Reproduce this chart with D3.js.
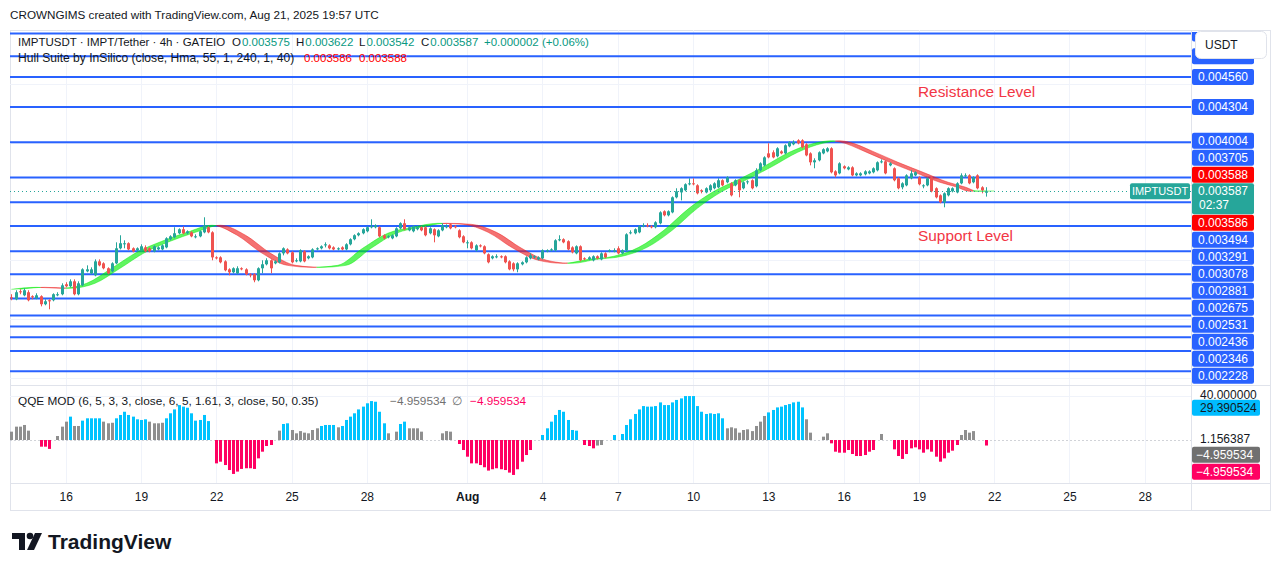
<!DOCTYPE html>
<html>
<head>
<meta charset="utf-8">
<script src="https://cdn.jsdelivr.net/npm/d3@7"></script>
<style>
  body { margin: 0; background: #fff; }
  text { font-family: "Liberation Sans", Arial, sans-serif; }
</style>
</head>
<body>
<div id="chart"></div>
<script>
// 4h candles, first bar 2025-07-13 20:00 UTC; prices are USDT x 1e6
const firstBar = "2025-07-13T20:00:00Z";
const open = [
  2685,2668,2736,2702,2728,2694,2677,2694,2626,2660,
  2660,2702,2711,2796,2779,2821,2711,2787,2906,2889,
  2872,2991,2974,2932,2906,2974,3102,3136,3145,3102,
  3085,3085,3110,3102,3076,3093,3093,3110,3179,3196,
  3230,3264,3230,3238,3196,3204,3238,3281,3238,3025,
  3025,2991,2923,2898,2889,2932,2923,2881,2881,2830,
  2932,2966,3000,2974,2983,3059,3093,3068,2991,2991,
  3076,3017,3025,3093,3102,3127,3127,3110,3093,3110,
  3093,3136,3179,3213,3230,3247,3281,3281,3281,3213,
  3196,3187,3204,3272,3315,3255,3247,3264,3281,3281,
  3230,3264,3204,3255,3281,3306,3289,3255,3204,3145,
  3153,3085,3127,3119,3051,3017,3025,3034,3034,2991,
  2974,2923,2966,2983,3017,3025,3008,3017,3076,3085,
  3085,3170,3179,3162,3110,3059,3119,3017,3008,3000,
  3034,3008,3059,3076,3076,3102,3059,3085,3230,3230,
  3238,3289,3298,3289,3281,3315,3417,3383,3408,3536,
  3578,3596,3647,3655,3638,3596,3578,3596,3613,3621,
  3681,3664,3655,3638,3681,3613,3664,3681,3630,3766,
  3808,3910,3919,3885,3927,3910,3970,3987,4021,4021,
  3987,3910,3834,3851,3910,3927,3953,3757,3740,3800,
  3774,3791,3723,3723,3732,3740,3749,3766,3834,3842,
  3808,3783,3698,3621,3638,3698,3723,3706,3630,3638,
  3706,3613,3553,3493,3553,3587,3578,3655,3715,3723,
  3664,3723,3621,3575
];
const high = [
  2711,2745,2753,2762,2745,2702,2719,2702,2668,2668,
  2719,2728,2804,2813,2838,2838,2821,2932,2957,2940,
  3008,3008,2983,2940,2983,3153,3213,3170,3153,3110,
  3110,3136,3127,3110,3127,3119,3136,3196,3213,3281,
  3272,3289,3255,3247,3221,3255,3366,3289,3247,3034,
  3034,3000,2932,2940,2949,2940,2932,2889,2889,2940,
  3000,3017,3008,3000,3068,3110,3102,3076,3017,3093,
  3085,3042,3102,3110,3127,3153,3136,3119,3110,3119,
  3145,3187,3221,3238,3272,3289,3349,3306,3289,3221,
  3213,3221,3281,3323,3349,3289,3298,3289,3289,3289,
  3281,3272,3264,3315,3306,3315,3298,3264,3213,3170,
  3162,3136,3136,3127,3059,3042,3051,3042,3042,3000,
  2983,2983,2991,3034,3059,3042,3034,3093,3093,3102,
  3179,3213,3187,3170,3119,3127,3127,3025,3034,3042,
  3042,3068,3068,3093,3102,3119,3093,3230,3255,3272,
  3298,3315,3315,3298,3332,3417,3425,3425,3544,3613,
  3621,3655,3698,3698,3647,3604,3621,3647,3664,3698,
  3689,3715,3664,3689,3689,3672,3681,3689,3783,3834,
  3885,3996,3936,3962,3936,3987,4013,4021,4030,4030,
  3996,3919,3868,3927,3953,3962,3962,3766,3834,3808,
  3800,3800,3749,3749,3766,3766,3791,3842,3859,3851,
  3834,3791,3706,3664,3732,3766,3757,3715,3647,3706,
  3715,3621,3561,3578,3621,3621,3664,3740,3740,3732,
  3715,3732,3630,3622
];
const low = [
  2660,2660,2711,2694,2651,2668,2668,2608,2617,2583,
  2651,2694,2702,2770,2770,2702,2702,2779,2898,2881,
  2864,2949,2923,2881,2898,2966,3093,3102,3085,3068,
  3076,3076,3068,3068,3068,3085,3085,3102,3170,3187,
  3221,3221,3221,3196,3187,3196,3230,3230,3000,3008,
  2974,2906,2872,2889,2881,2915,2872,2855,2813,2821,
  2889,2957,2889,2966,2974,3042,3051,2974,2983,2983,
  2983,3008,3017,3085,3093,3110,3093,3085,3085,3085,
  3085,3127,3170,3204,3221,3238,3272,3272,3196,3179,
  3187,3179,3196,3264,3255,3247,3238,3255,3247,3204,
  3221,3153,3196,3247,3272,3264,3272,3187,3145,3102,
  3093,3076,3110,3051,2974,3008,3017,3017,2974,2915,
  2906,2898,2957,2974,3008,3017,3000,3008,3068,3076,
  3076,3162,3145,3085,3059,3051,2991,3000,3000,2991,
  3008,3000,3017,3068,3068,3051,3051,3076,3221,3221,
  3230,3281,3281,3272,3272,3306,3374,3374,3400,3527,
  3510,3587,3638,3638,3561,3570,3570,3587,3604,3613,
  3630,3655,3544,3630,3536,3604,3647,3604,3621,3757,
  3800,3868,3868,3876,3902,3902,3962,3979,3987,3953,
  3885,3808,3783,3842,3902,3919,3740,3706,3732,3774,
  3766,3715,3715,3715,3723,3732,3740,3757,3825,3732,
  3800,3672,3604,3604,3630,3689,3715,3638,3613,3630,
  3578,3527,3485,3451,3544,3578,3570,3647,3706,3647,
  3655,3604,3570,3542
];
const close = [
  2677,2728,2728,2745,2660,2685,2702,2626,2651,2651,
  2711,2711,2787,2779,2821,2711,2804,2923,2923,2923,
  2991,2957,2932,2889,2974,3102,3145,3145,3093,3076,
  3102,3119,3076,3076,3119,3110,3127,3187,3204,3230,
  3264,3230,3247,3204,3204,3247,3298,3238,3025,3017,
  2983,2915,2898,2932,2932,2923,2881,2872,2830,2932,
  2966,3000,2932,2991,3059,3102,3059,2983,3000,3085,
  2991,3034,3093,3102,3119,3136,3102,3093,3102,3093,
  3136,3179,3213,3230,3264,3281,3289,3298,3204,3187,
  3204,3213,3272,3315,3264,3281,3289,3281,3255,3213,
  3272,3213,3255,3298,3289,3272,3281,3196,3153,3153,
  3102,3127,3119,3059,2983,3034,3034,3025,2983,2923,
  2923,2974,2983,3025,3042,3034,3025,3085,3085,3093,
  3170,3179,3153,3093,3068,3119,3000,3008,3025,3034,
  3017,3059,3025,3085,3085,3059,3085,3221,3238,3264,
  3289,3298,3289,3281,3323,3408,3383,3417,3536,3587,
  3613,3647,3655,3647,3570,3587,3613,3638,3655,3681,
  3638,3706,3553,3681,3596,3664,3672,3613,3766,3825,
  3876,3876,3876,3953,3910,3979,4004,4004,3996,3962,
  3893,3834,3851,3919,3945,3953,3749,3723,3825,3783,
  3791,3723,3740,3740,3757,3757,3783,3834,3842,3740,
  3825,3681,3613,3655,3723,3740,3749,3647,3638,3698,
  3587,3536,3493,3570,3613,3613,3655,3723,3723,3655,
  3706,3613,3596,3587
];

// Hull Suite (55) read at these bar indices, USDT x 1e6
const hullBar = [0,6,12,18,24,30,36,42,48,54,60,66,72,78,84,90,96,102,108,114,120,
  126,132,138,144,150,156,162,168,174,180,186,192,196,198,204,210,216,222,226,229,233];
const hullVal = [2753,2770,2762,2804,2932,3068,3162,3238,3298,3213,3059,2957,2940,2957,3102,3230,3281,3315,3306,3238,3102,
  3000,2974,3008,3034,3110,3255,3442,3587,3689,3800,3919,3996,4017,4008,3927,3834,3749,3664,3624,3588,3590];

// horizontal levels drawn on the chart
const levels = [0.004931,0.004736,0.004560,0.004304,0.004004,0.003705,0.003494,0.003291,
  0.003078,0.002881,0.002675,0.002531,0.002436,0.002346,0.002228,0.002055];
const lastPrice = 0.003587;
const hullLast = [0.003588, 0.003586];

// QQE MOD histogram, one value per bar; colour code g=grey b=blue r=red 0=none
const qqeVal = [
  7.5,12,12,13.5,8.4,0,0,-6,-6,-8,
  0,3.6,12,16.5,21,12.6,12.6,17.4,19.5,19.5,
  19.5,19.5,16.5,15,15.5,19.5,22.5,25.4,22.5,21,
  18.6,18,18.6,16.5,15,15,15.5,19.5,24,27.5,
  31.4,30,29,24,17.4,18,22.5,17,0,-21,
  -19.5,-22.5,-27,-30.5,-28.4,-26,-25.4,-25.4,-26,-16.5,
  -10.5,-5.4,-4.5,0,8.4,14.4,15,9,6,8,
  6.6,6,9,10.5,12.6,13.5,13.5,13.5,11.4,12.6,
  18,21,24,27.5,30,33,35,34.4,25.4,15,
  6,0,7.5,14.4,16.5,10.5,10.5,10.5,7.5,0,
  0,0,0,6,8,7.5,0,-3.6,-9,-15,
  -21,-21,-22.5,-24.5,-27.5,-26.3,-25.4,-26.3,-27,-29.3,
  -31.4,-26.3,-19.5,-13.5,-9,-4.5,0,4.5,10.5,16.5,
  22.5,27,25.4,18,9,8.4,0,-4.5,-5.4,-7.5,
  -5,-4.5,0,0,4.5,0,5.4,13.5,18.6,23.4,
  27.5,30.5,30,30,30.5,33.8,31.4,31.4,33.8,36,
  37.4,39.5,39.5,39.5,30.5,25.4,23.4,24,23.4,24,
  19.5,10.5,11.4,10.5,6.6,9,9.6,8,12.6,16.5,
  21.6,24.8,27,29.3,30,31.4,32.3,33.8,34.4,29.3,
  18.6,6.6,0,0,3,6,-3,-10.5,-11.4,-11.4,
  -9,-12.6,-14.4,-14.4,-13.5,-10.5,-9,0,5.4,0,
  0,-8.4,-14.4,-17,-12.6,-7.5,-6.6,-8.4,-11.4,-8.4,
  -10.5,-15,-19.5,-16.5,-11.4,-9.6,-4.5,4.5,9,6.6,
  8,0,0,-4.96
];
const qqeCol = ("ggggg00rrr 0gggbggbbb bbgggbbbbb bbbggggbbb bbbbbbbb0r rrrrrrrrrr rrr0gbbggg " +
  "ggggbbbbgb bbbbbbbbbb g0gbbgggg0 000ggg0rrr rrrrrrrrrr rrrrr0gbbb bbbbbb0rrr gg00b0bbbb " +
  "bbbbbbbbbb bbbbbbbbbb bggggggggg gbbbbbbbbb gg00ggrrrr rrrrrrr0g0 0rrrrrrrrr rrrrrrrggg g00r").replace(/ /g, "");
const qqeLast = {up: 29.390524, mid: 1.156387, val: -4.959534};

// time axis tick dates
const tickDates = ["2025-07-16","2025-07-19","2025-07-22","2025-07-25","2025-07-28","2025-08-01",
  "2025-08-04","2025-08-07","2025-08-10","2025-08-13","2025-08-16","2025-08-19","2025-08-22",
  "2025-08-25","2025-08-28"];

[open, high, low, qqeVal].forEach(a => {
  if (a.length !== close.length) throw new Error("length mismatch " + a.length + " vs " + close.length);
});
if (qqeCol.length !== close.length) throw new Error("qqeCol length " + qqeCol.length);

// ---------- layout ----------
const W = 1281, H = 571;
const L = 10, R = 1191, AX = 1271, TOP = 30, MAIN_B = 385, QQE_B = 483, BOT = 511;
const UP = "#26a69a", DOWN = "#ef5350", BLUE = "#2962ff";

const svg = d3.select("#chart").append("svg").attr("width", W).attr("height", H);

const t0 = Date.parse(firstBar), step = 4 * 3600e3;
const barTime = i => new Date(t0 + i * step);

const x = d3.scaleUtc()
  .domain([new Date("2025-07-16T00:00:00Z"), new Date("2025-08-22T00:00:00Z")])
  .range([65.7, 994.2]);
const barW = x(barTime(1)) - x(barTime(0));

const y = d3.scaleLinear().domain([0.002228, 0.004560]).range([351, 77]);
const yq = d3.scaleLinear().domain([0, 40]).range([440, 395.5]);

const defs = svg.append("defs");
defs.append("clipPath").attr("id", "mainClip").append("rect")
  .attr("x", L).attr("y", TOP).attr("width", R - L).attr("height", MAIN_B - TOP);
defs.append("clipPath").attr("id", "qqeClip").append("rect")
  .attr("x", L).attr("y", MAIN_B).attr("width", R - L).attr("height", QQE_B - MAIN_B);
defs.append("clipPath").attr("id", "axisClip").append("rect")
  .attr("x", R).attr("y", 32).attr("width", AX - R).attr("height", MAIN_B - 32);

// title
svg.append("text").attr("x", 10).attr("y", 19).attr("font-size", 11.7).attr("fill", "#131722")
  .text("CROWNGIMS created with TradingView.com, Aug 21, 2025 19:57 UTC");

// frame
svg.append("rect").attr("x", L + 0.5).attr("y", TOP + 0.5).attr("width", AX - L - 1).attr("height", BOT - TOP - 1)
  .attr("fill", "#fff").attr("stroke", "#e0e3eb");

// grid
const grid = svg.append("g");
grid.selectAll(".vg").data(tickDates).join("line")
  .attr("x1", d => Math.round(x(new Date(d + "T00:00:00Z"))) + 0.5)
  .attr("x2", d => Math.round(x(new Date(d + "T00:00:00Z"))) + 0.5)
  .attr("y1", TOP).attr("y2", QQE_B).attr("stroke", "#f0f3fa");
const priceTicks = d3.range(0.002, 0.00501, 0.0005);
grid.append("g").attr("clip-path", "url(#mainClip)").selectAll("line").data(priceTicks).join("line")
  .attr("x1", L).attr("x2", R).attr("y1", d => Math.round(y(d)) + 0.5).attr("y2", d => Math.round(y(d)) + 0.5)
  .attr("stroke", "#f0f3fa");
grid.append("line").attr("x1", L).attr("x2", R).attr("y1", Math.round(yq(40)) + 0.5).attr("y2", Math.round(yq(40)) + 0.5)
  .attr("stroke", "#f0f3fa");

// separators
svg.append("line").attr("x1", L).attr("x2", AX).attr("y1", MAIN_B + 0.5).attr("y2", MAIN_B + 0.5).attr("stroke", "#e0e3eb");
svg.append("line").attr("x1", L).attr("x2", AX).attr("y1", QQE_B + 0.5).attr("y2", QQE_B + 0.5).attr("stroke", "#e0e3eb");
svg.append("line").attr("x1", R + 0.5).attr("x2", R + 0.5).attr("y1", TOP).attr("y2", BOT).attr("stroke", "#e0e3eb");

// ---------- main pane ----------
const main = svg.append("g").attr("clip-path", "url(#mainClip)");

main.selectAll(".lvl").data(levels).join("line")
  .attr("x1", L).attr("x2", R)
  .attr("y1", d => y(d)).attr("y2", d => y(d))
  .attr("stroke", BLUE).attr("stroke-width", 2);

// Hull band: HULL vs HULL[2]
const hull = hullBar.map((b, k) => ({b, t: barTime(b), v: hullVal[k] / 1e6}));
const band = d3.area().curve(d3.curveMonotoneX)
  .x0(d => x(d.t)).x1(d => x(d.t) + 2 * barW).y(d => y(d.v));
const edge0 = d3.line().curve(d3.curveMonotoneX).x(d => x(d.t)).y(d => y(d.v));
const edge1 = d3.line().curve(d3.curveMonotoneX).x(d => x(d.t) + 2 * barW).y(d => y(d.v));

const runs = [];
let start = 0, dir = Math.sign(hull[1].v - hull[0].v);
for (let k = 1; k < hull.length; k++) {
  const d = Math.sign(hull[k].v - hull[k - 1].v) || dir;
  if (d !== dir) { runs.push({a: start, b: k - 1, dir}); start = k - 1; dir = d; }
}
runs.push({a: start, b: hull.length - 1, dir});

runs.forEach((r, n) => {
  const xa = n === 0 ? L : x(hull[r.a].t) + barW;
  const xb = n === runs.length - 1 ? R : x(hull[r.b].t) + barW;
  const id = "hclip" + n;
  defs.append("clipPath").attr("id", id).append("rect")
    .attr("x", xa).attr("y", TOP).attr("width", xb - xa).attr("height", MAIN_B - TOP);
  const col = r.dir > 0 ? "#00ee00" : "#ee1c1c";
  const g = main.append("g").attr("clip-path", `url(#${id})`);
  g.append("path").datum(hull).attr("d", band).attr("fill", col).attr("fill-opacity", 0.62);
  g.append("path").datum(hull).attr("d", edge0).attr("fill", "none").attr("stroke", col).attr("stroke-opacity", 0.45);
  g.append("path").datum(hull).attr("d", edge1).attr("fill", "none").attr("stroke", col).attr("stroke-opacity", 0.45);
});

// candles
const bars = close.map((c, i) => ({
  t: barTime(i), o: open[i] / 1e6, h: high[i] / 1e6, l: low[i] / 1e6, c: c / 1e6
}));
const cg = main.append("g");
cg.selectAll(".wick").data(bars).join("line")
  .attr("x1", d => Math.round(x(d.t)) + 0.5).attr("x2", d => Math.round(x(d.t)) + 0.5)
  .attr("y1", d => y(d.h)).attr("y2", d => y(d.l))
  .attr("stroke", d => d.c >= d.o ? UP : DOWN);
cg.selectAll(".body").data(bars).join("rect")
  .attr("x", d => Math.round(x(d.t)) - 1)
  .attr("width", 3)
  .attr("y", d => y(Math.max(d.o, d.c)))
  .attr("height", d => Math.max(1, Math.abs(y(d.o) - y(d.c))))
  .attr("fill", d => d.c >= d.o ? UP : DOWN);

// last price line
main.append("line").attr("x1", L).attr("x2", R)
  .attr("y1", Math.round(y(lastPrice)) + 0.5).attr("y2", Math.round(y(lastPrice)) + 0.5)
  .attr("stroke", UP).attr("stroke-dasharray", "1,3");

// level annotations
svg.append("text").attr("x", 918).attr("y", 97).attr("font-size", 15.4).attr("fill", "#f23645").text("Resistance Level");
svg.append("text").attr("x", 918).attr("y", 241).attr("font-size", 15.4).attr("fill", "#f23645").text("Support Level");

// legend texts
const fmt = d3.format(".6f");
const hdr = svg.append("text").attr("y", 46).attr("font-size", 11.5).attr("fill", "#131722");
hdr.append("tspan").attr("x", 18).text("IMPTUSDT · IMPT/Tether · 4h · GATEIO");
const ohlcX = [232, 296, 359, 421];
[["O", "0.003575"], ["H", "0.003622"], ["L", "0.003542"], ["C", "0.003587"]].forEach(([k, v], n) => {
  hdr.append("tspan").attr("x", ohlcX[n]).text(k);
  hdr.append("tspan").attr("dx", 1).attr("fill", "#089981").text(v);
});
hdr.append("tspan").attr("x", 484).attr("fill", "#089981").text("+0.000002 (+0.06%)");

const hdr2 = svg.append("text").attr("y", 62).attr("font-size", 12.1).attr("fill", "#131722");
hdr2.append("tspan").attr("x", 18).text("Hull Suite by InSilico (close, Hma, 55, 1, 240, 1, 40)");
hdr2.append("tspan").attr("x", 304).attr("font-size", 11.5).attr("fill", "#ff0000").text(fmt(hullLast[1]));
hdr2.append("tspan").attr("x", 359).attr("font-size", 11.5).attr("fill", "#ff0000").text(fmt(hullLast[0]));

// ---------- QQE pane ----------
const qg = svg.append("g").attr("clip-path", "url(#qqeClip)");
qg.append("line").attr("x1", L).attr("x2", R).attr("y1", yq(0) + 0.5).attr("y2", yq(0) + 0.5)
  .attr("stroke", "#b2b5be").attr("stroke-dasharray", "2,2").attr("stroke-opacity", 0.6);
const qcolor = {g: "#8f8f8f", b: "#00c3ff", r: "#ff0062"};
const qdata = qqeVal.map((v, i) => ({t: barTime(i), v, c: qqeCol[i]})).filter(d => d.c !== "0" && d.v !== 0);
qg.selectAll(".qb").data(qdata).join("rect")
  .attr("x", d => Math.round(x(d.t)) - 1)
  .attr("width", 3)
  .attr("y", d => Math.min(yq(0), yq(d.v)))
  .attr("height", d => Math.abs(yq(d.v) - yq(0)))
  .attr("fill", d => qcolor[d.c]);

const qh = svg.append("text").attr("y", 405).attr("font-size", 11.8).attr("fill", "#131722");
qh.append("tspan").attr("x", 18).text("QQE MOD (6, 5, 3, 3, close, 6, 5, 1.61, 3, close, 50, 0.35)");
qh.append("tspan").attr("x", 390).attr("fill", "#707070").text("−" + fmt(-qqeLast.val));
qh.append("tspan").attr("x", 452).attr("fill", "#707070").text("∅");
qh.append("tspan").attr("x", 470).attr("fill", "#ff0062").text("−" + fmt(-qqeLast.val));

// ---------- time axis ----------
const xAxis = d3.axisBottom(x)
  .tickValues(tickDates.map(d => new Date(d + "T00:00:00Z")))
  .tickSize(0).tickPadding(0)
  .tickFormat(d => d.getUTCDate() === 1 ? d3.utcFormat("%b")(d) : d.getUTCDate());
const xa = svg.append("g").attr("transform", `translate(0,${QQE_B})`).call(xAxis);
xa.select(".domain").remove();
xa.selectAll("text").attr("y", 18).attr("dy", 0).attr("font-size", 12).attr("fill", "#131722")
  .attr("font-family", "'Liberation Sans', Arial, sans-serif")
  .attr("font-weight", d => d.getUTCDate() === 1 ? 700 : 400);

// ---------- price axis ----------
const axMain = svg.append("g").attr("clip-path", "url(#axisClip)");

function tag(g, cy, txt, bg, h = 16) {
  g.append("rect").attr("x", R + 1).attr("y", cy - h / 2).attr("width", 62).attr("height", h)
    .attr("rx", 2).attr("fill", bg);
  if (cy > 62) {
    g.append("text").attr("x", R + 32).attr("y", cy + 4).attr("text-anchor", "middle")
      .attr("font-size", 12).attr("fill", "#fff").text(txt);
  }
}

// current price block (fixed), others stacked away from it
const lastY = y(lastPrice);
const lastTop = lastY - 8, lastBot = lastY + 23;
const above = [{p: hullLast[0], bg: "#ff0000"}].concat(levels.filter(p => p > lastPrice).map(p => ({p, bg: BLUE})))
  .sort((a, b) => a.p - b.p);
const below = [{p: hullLast[1], bg: "#ff0000"}].concat(levels.filter(p => p < lastPrice).map(p => ({p, bg: BLUE})))
  .sort((a, b) => b.p - a.p);
const LH = 17;
let edgeTop = lastTop;
above.forEach(d => { d.cy = Math.min(y(d.p), edgeTop - LH / 2); edgeTop = d.cy - LH / 2; });
let edgeBot = lastBot;
below.forEach(d => { d.cy = Math.max(y(d.p), edgeBot + LH / 2); edgeBot = d.cy + LH / 2; });
above.concat(below).filter(d => d.cy < MAIN_B - 6).forEach(d => tag(axMain, d.cy, fmt(d.p), d.bg));

axMain.append("rect").attr("x", R + 1).attr("y", lastTop).attr("width", 62).attr("height", lastBot - lastTop)
  .attr("rx", 2).attr("fill", UP);
axMain.append("text").attr("x", R + 32).attr("y", lastY + 4).attr("text-anchor", "middle")
  .attr("font-size", 12).attr("fill", "#fff").text(fmt(lastPrice));
axMain.append("text").attr("x", R + 8).attr("y", lastY + 18)
  .attr("font-size", 12).attr("fill", "#fff").text("02:37");

// symbol tag on the left of the axis
svg.append("rect").attr("x", 1130).attr("y", lastY - 8).attr("width", 60).attr("height", 16).attr("rx", 2).attr("fill", UP);
svg.append("text").attr("x", 1160).attr("y", lastY + 4).attr("text-anchor", "middle")
  .attr("font-size", 11).attr("fill", "#fff").text("IMPTUSDT");

// currency box
svg.append("rect").attr("x", 1195.5).attr("y", 31.5).attr("width", 71).attr("height", 27).attr("rx", 5)
  .attr("fill", "#fff").attr("stroke", "#e0e3eb");
svg.append("text").attr("x", 1205).attr("y", 49).attr("font-size", 12).attr("fill", "#131722").text("USDT");

// QQE axis labels
svg.append("text").attr("x", 1200).attr("y", yq(40) + 3.5).attr("font-size", 12).attr("fill", "#131722").text(fmt(40));
svg.append("rect").attr("x", R + 1).attr("y", yq(qqeLast.up) - 7.5).attr("width", 68).attr("height", 16).attr("rx", 2).attr("fill", "#00bcff");
svg.append("text").attr("x", 1200).attr("y", yq(qqeLast.up) + 4.5).attr("font-size", 12).attr("fill", "#131722").text(fmt(qqeLast.up));
svg.append("text").attr("x", 1200).attr("y", yq(qqeLast.mid) + 4).attr("font-size", 12).attr("fill", "#131722").text(fmt(qqeLast.mid));
const qlab = [{bg: "#707070", cy: yq(qqeLast.mid) + 16}, {bg: "#ff0062", cy: yq(qqeLast.mid) + 33}];
qlab.forEach(d => {
  svg.append("rect").attr("x", R + 1).attr("y", d.cy - 8).attr("width", 68).attr("height", 16).attr("rx", 2).attr("fill", d.bg);
  svg.append("text").attr("x", 1196).attr("y", d.cy + 4).attr("font-size", 12).attr("fill", "#fff")
    .text("−" + fmt(-qqeLast.val));
});

// ---------- logo ----------
const logo = svg.append("g").attr("fill", "#131722");
logo.append("path").attr("d", "M12,533 H25 V550 H19 V539 H12 Z");
logo.append("circle").attr("cx", 30).attr("cy", 536).attr("r", 3.3);
logo.append("path").attr("d", "M35,533 H42 L34,550 H27 Z");
svg.append("text").attr("x", 48).attr("y", 549).attr("font-size", 21).attr("font-weight", 700)
  .attr("fill", "#131722").text("TradingView");
</script>
</body>
</html>
